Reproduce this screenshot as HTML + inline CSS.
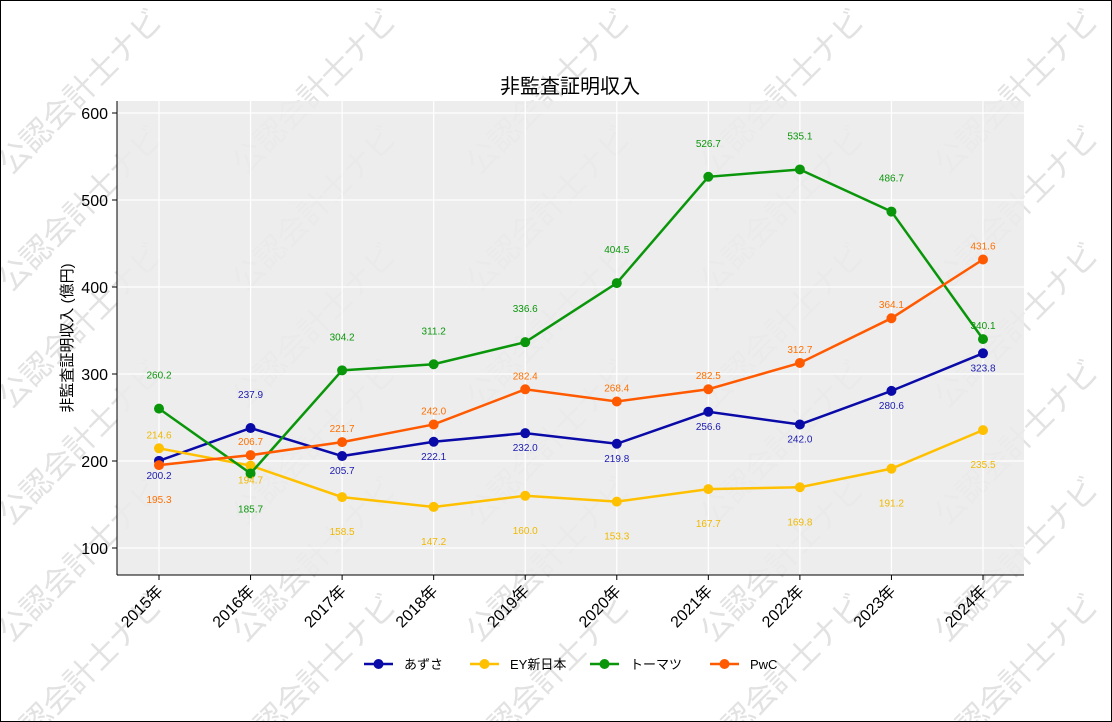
<!DOCTYPE html>
<html><head><meta charset="utf-8">
<style>
html,body{margin:0;padding:0;background:#fff;width:1112px;height:722px;overflow:hidden;}
svg{display:block;font-family:"Liberation Sans","Noto Sans CJK JP",sans-serif;}
</style></head>
<body>
<svg id="chart" width="1112" height="722" viewBox="0 0 1112 722" style="overflow:hidden">
<rect x="0.5" y="0.5" width="1111" height="721" fill="#fff"/>
<g id="wm"></g>
<rect x="117" y="101" width="907" height="474" fill="#ebebeb" fill-opacity="0.9"/>
<g id="grid"></g>
<g id="series"></g>
<line x1="117" y1="101" x2="117" y2="575" stroke="#000"/>
<line x1="117" y1="575" x2="1024" y2="575" stroke="#000"/>
<g id="axes"></g>
<text x="570" y="93" text-anchor="middle" font-size="20" fill="#000">非監査証明収入</text>
<text transform="translate(72,338) rotate(-90)" text-anchor="middle" font-size="15" fill="#000">非監査証明収入 (億円)</text>
<g id="legend"></g>
<rect x="0.5" y="0.5" width="1111" height="721" fill="none" stroke="#000"/>
</svg>
<script>
const categories = ["2015年","2016年","2017年","2018年","2019年","2020年","2021年","2022年","2023年","2024年"];
const seriesNames = ["あずさ","EY新日本","トーマツ","PwC"];
const azusa = [200.2,237.9,205.7,222.1,232.0,219.8,256.6,242.0,280.6,323.8];
const ey = [214.6,194.7,158.5,147.2,160.0,153.3,167.7,169.8,191.2,235.5];
const tohmatsu = [260.2,185.7,304.2,311.2,336.6,404.5,526.7,535.1,486.7,340.1];
const pwc = [195.3,206.7,221.7,242.0,282.4,268.4,282.5,312.7,364.1,431.6];
const yTicks = [100,200,300,400,500,600];

const colors = ["#0a0aa8","#ffc000","#0a960a","#ff5a00"];
const labelColors = ["#1a1ab0","#f0b800","#0a960a","#ff7000"];
const allSeries = [azusa, ey, tohmatsu, pwc];
const offsets = [
  [14,-34,14,14,14,14,14,14,14,14],
  [-14,14,34,34,34,34,34,34,34,34],
  [-34,35,-34,-34,-34,-34,-34,-34,-34,-14],
  [34,-14,-14,-14,-14,-14,-14,-14,-14,-14]
];
const NS = "http://www.w3.org/2000/svg";
function xs(i){return 159 + i*(983-159)/(categories.length-1);}
function ys(v){return 548 - (v-100)*(548-113)/500;}
function mk(tag, attrs, parent){const e=document.createElementNS(NS,tag);for(const k in attrs)e.setAttribute(k,attrs[k]);parent.appendChild(e);return e;}

const wm=document.getElementById('wm');
for(let r=0;r<6;r++){for(let c=0;c<5;c++){
  const cx=88+c*234, cy=88+r*117;
  const t=mk('text',{transform:`translate(${cx},${cy+11}) rotate(-45)`,'text-anchor':'middle','font-size':'31',fill:'#e2e2e2'},wm);
  
  
  t.textContent='公認会計士ナビ';
}}

const grid=document.getElementById('grid'), axes=document.getElementById('axes');
yTicks.forEach(v=>{
  const l=mk('line',{x1:117,x2:1024,y1:ys(v),y2:ys(v),stroke:'#fff','stroke-width':1.2},grid);
  
  
  mk('line',{x1:112,x2:117,y1:ys(v),y2:ys(v),stroke:'#000'},axes);
  const t=mk('text',{x:108,y:ys(v)+6,'text-anchor':'end','font-size':'16',fill:'#000'},axes);
  
  
  t.textContent=v;
});
categories.forEach((c,i)=>{
  const l=mk('line',{x1:xs(i),x2:xs(i),y1:101,y2:575,stroke:'#fff','stroke-width':1.2},grid);
  
  
  mk('line',{x1:xs(i),x2:xs(i),y1:575,y2:580,stroke:'#000'},axes);
  const t=mk('text',{transform:`translate(${xs(i)+5},${592}) rotate(-45)`,'text-anchor':'end','font-size':'16',fill:'#000'},axes);
  
  
  t.textContent=c;
});

const sg=document.getElementById('series');
allSeries.forEach((d,s)=>{
  const g=mk('g',{},sg);
  
  
  const pl=mk('polyline',{points:d.map((v,i)=>xs(i)+','+ys(v)).join(' '),fill:'none',stroke:colors[s],'stroke-width':2.5},g);
  
  
  d.forEach((v,i)=>{
    const p=mk('circle',{cx:xs(i),cy:ys(v),r:5,fill:colors[s]},g);
    
    
  });
});
allSeries.forEach((d,s)=>{
  d.forEach((v,i)=>{
    const t=mk('text',{x:xs(i),y:ys(v)+offsets[s][i]+4,'text-anchor':'middle','font-size':'10',fill:labelColors[s]},sg);
    
    
    t.textContent=v.toFixed(1);
  });
});

const lg=document.getElementById('legend');
const lx=[364,470,590,710];
seriesNames.forEach((n,s)=>{
  const g=mk('g',{},lg);
  
  
  mk('line',{x1:lx[s],x2:lx[s]+29,y1:664,y2:664,stroke:colors[s],'stroke-width':2.5},g);
  mk('circle',{cx:lx[s]+14.5,cy:664,r:5,fill:colors[s]},g);
  const t=mk('text',{x:lx[s]+40,y:669,'font-size':'13',fill:'#000'},g);
  t.textContent=n;
});
</script>
</body></html>
